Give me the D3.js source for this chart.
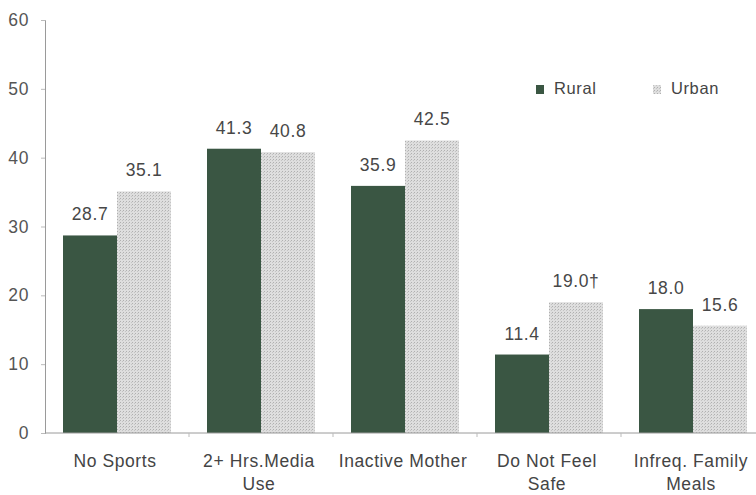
<!DOCTYPE html>
<html>
<head>
<meta charset="utf-8">
<script src="https://cdn.jsdelivr.net/npm/d3@7"></script>
<style>
  body { margin: 0; background: #fff; }
  text { font-family: "Liberation Sans", Arial, sans-serif; letter-spacing: 0.6px; }
</style>
</head>
<body>
<div id="chart"></div>
<script>
// Data
const categories = [["No Sports"], ["2+ Hrs.Media", "Use"], ["Inactive Mother"], ["Do Not Feel", "Safe"], ["Infreq. Family", "Meals"]];
const rural = [28.7, 41.3, 35.9, 11.4, 18.0];
const urban = [35.1, 40.8, 42.5, 19.0, 15.6];
const urbanLabels = ["35.1", "40.8", "42.5", "19.0\u2020", "15.6"];
const yTicks = [0, 10, 20, 30, 40, 50, 60];

const width = 756, height = 495;
const svg = d3.select("#chart").append("svg")
  .attr("width", width)
  .attr("height", height);

// dotted fill for the urban bars
const defs = svg.append("defs");
const pat = defs.append("pattern")
  .attr("id", "dots")
  .attr("width", 3).attr("height", 3)
  .attr("patternUnits", "userSpaceOnUse");
pat.append("rect").attr("width", 3).attr("height", 3).attr("fill", "#dedede");
pat.append("rect").attr("x", 0).attr("y", 0).attr("width", 1).attr("height", 1).attr("fill", "#b0b0b0");
pat.append("rect").attr("x", 2).attr("y", 1).attr("width", 1).attr("height", 1).attr("fill", "#c4c4c4");

const x = d3.scaleBand()
  .domain(d3.range(categories.length))
  .range([45, 765])
  .paddingInner(0)
  .paddingOuter(0);

const inner = 18;
const barW = (x.bandwidth() - 2 * inner) / 2;

const y = d3.scaleLinear()
  .domain([0, 60])
  .range([433, 20]);

const fs = "17.5px";

// y axis
const yAxis = svg.append("g")
  .attr("transform", "translate(45,0)")
  .call(d3.axisLeft(y).tickValues(yTicks).tickSize(4).tickPadding(12));
yAxis.select(".domain").attr("stroke", "#9a9a9a");
yAxis.selectAll(".tick line").attr("stroke", "#bbb");
yAxis.selectAll("text")
  .style("font-size", fs)
  .attr("fill", "#555");

// bars
const g = svg.append("g");
g.selectAll(".rural")
  .data(rural)
  .enter().append("rect")
  .attr("class", "rural")
  .attr("x", (d, i) => x(i) + inner)
  .attr("y", d => y(d))
  .attr("width", barW)
  .attr("height", d => y(0) - y(d))
  .attr("fill", "#3a5643");

g.selectAll(".urban")
  .data(urban)
  .enter().append("rect")
  .attr("class", "urban")
  .attr("x", (d, i) => x(i) + inner + barW)
  .attr("y", d => y(d))
  .attr("width", barW)
  .attr("height", d => y(0) - y(d))
  .attr("fill", "url(#dots)");

// value labels
g.selectAll(".rlab")
  .data(rural)
  .enter().append("text")
  .attr("x", (d, i) => x(i) + inner + barW / 2)
  .attr("y", d => y(d) - 15)
  .attr("text-anchor", "middle")
  .style("font-size", fs)
  .attr("fill", "#474747")
  .text(d => d.toFixed(1));

g.selectAll(".ulab")
  .data(urban)
  .enter().append("text")
  .attr("x", (d, i) => x(i) + inner + barW * 1.5)
  .attr("y", d => y(d) - 15)
  .attr("text-anchor", "middle")
  .style("font-size", fs)
  .attr("fill", "#474747")
  .text((d, i) => urbanLabels[i]);

// x axis
const xAxis = svg.append("g")
  .attr("transform", `translate(0,${y(0)})`);
xAxis.append("line")
  .attr("x1", 45).attr("x2", width)
  .attr("stroke", "#9a9a9a");
xAxis.selectAll(".xt")
  .data(d3.range(1, categories.length))
  .enter().append("line")
  .attr("x1", i => x(i)).attr("x2", i => x(i))
  .attr("y1", 0).attr("y2", 4)
  .attr("stroke", "#bbb");

const cat = xAxis.selectAll(".cat")
  .data(categories)
  .enter().append("text")
  .attr("text-anchor", "middle")
  .attr("x", (d, i) => x(i) + x.bandwidth() / 2 - 2)
  .attr("y", 34)
  .style("font-size", fs)
  .attr("fill", "#444");
cat.selectAll("tspan")
  .data(d => d)
  .enter().append("tspan")
  .attr("x", function() { return d3.select(this.parentNode).attr("x"); })
  .attr("dy", (d, i) => i === 0 ? 0 : 23)
  .text(d => d);

// legend
const legend = [["Rural", "#3a5643"], ["Urban", "url(#dots)"]];
const lg = svg.append("g");
legend.forEach(([name, fill], i) => {
  const lx = 536 + i * 117;
  lg.append("rect")
    .attr("x", lx).attr("y", 85)
    .attr("width", 8).attr("height", 9)
    .attr("fill", fill);
  lg.append("text")
    .attr("x", lx + 18).attr("y", 94)
    .style("font-size", "16.5px")
    .attr("fill", "#444")
    .text(name);
});
</script>
</body>
</html>
